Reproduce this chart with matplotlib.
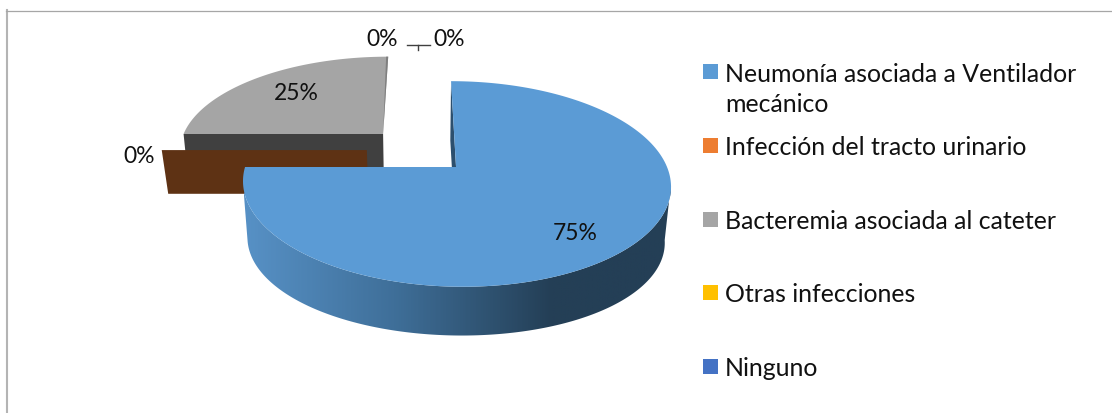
import numpy as np
import matplotlib
matplotlib.use('Agg')
import matplotlib.pyplot as plt
from matplotlib.patches import Polygon, Rectangle
from matplotlib.colors import LinearSegmentedColormap

categories = ['Neumonía asociada a Ventilador\nmecánico', 'Infección del tracto urinario',
              'Bacteremia asociada al cateter', 'Otras infecciones', 'Ninguno']
values = [75, 0, 25, 0, 0]
labels = ['75%', '0%', '25%', '0%', '0%']
colors = ['#5b9bd5', '#ed7d31', '#a5a5a5', '#ffc000', '#4472c4']

# explosion of each slice on the pie plane (x right, y away from viewer)
explode_x = [0.166, -0.264, -0.19, 0, 0]
explode_y = [0, 0.174, 0.349, 0, 0]

W, H = 1112, 414
VX, HORIZON, FY, P = 421, -438, 606, 0.165
LOW_FY, LOW_P, LOW_S, R = 663, 0.144, 0.975, 211
ORANGE_CUT = 14

plt.rcParams['font.family'] = ['Lato', 'DejaVu Sans']


def top(x, y):
    w = 1 + P * y
    return VX + R * x / w, HORIZON + FY / w


def low(x, y):
    w = 1 + P * y
    return VX + LOW_S * R * x / w, HORIZON + LOW_FY / (1 + LOW_P * y)


def sector(cx, cy, a0, a1, fn, n=200):
    # angles clockwise from the top of the pie
    a = np.radians(np.linspace(a0, a1, n))
    return np.column_stack(fn(cx + np.sin(a), cy + np.cos(a)))


def add_poly(ax, pts, color, z):
    ax.add_patch(Polygon(pts, closed=True, fc=color, ec='none', zorder=z))


fig = plt.figure(figsize=(W / 100, H / 100), dpi=100)
ax = fig.add_axes([0, 0, 1, 1])
ax.set_xlim(0, W)
ax.set_ylim(H, 0)
ax.axis('off')

# chart frame, only left and top are in the picture
ax.plot([6.8, 6.8], [H, 11], color='#b4b4b4', lw=1.5, zorder=1)
ax.plot([6, W], [11.5, 11.5], color='#a6a6a6', lw=0.9, zorder=1)

angles = np.cumsum([0] + values) * 3.6

# grey slice, at the back
cx, cy = explode_x[2], explode_y[2]
a0, a1 = angles[2], angles[3]
front_face = [top(cx, cy), top(cx - 1, cy), low(cx - 1, cy), low(cx, cy)]
add_poly(ax, front_face, '#404040', 3)
add_poly(ax, np.vstack([[top(cx, cy)], sector(cx, cy, a0, a1, top)]), colors[2], 4)
# thin sliver of its cut face along the right edge
add_poly(ax, [top(cx, cy + 1), top(cx, cy), top(cx - 0.012, cy + 1)], '#7f7f7f', 4.5)

# orange slice has no angle, only its cut face is seen
cx, cy = explode_x[1], explode_y[1]
orange_low = np.array([low(cx - 1, cy), low(cx, cy)]) - [0, ORANGE_CUT]
add_poly(ax, np.vstack([[top(cx, cy), top(cx - 1, cy)], orange_low]), '#5e3214', 5)

# blue slice
cx, cy = explode_x[0], explode_y[0]
a0, a1 = angles[0], angles[1]
inner = [top(cx, cy + 1), top(cx, cy), low(cx, cy), low(cx, cy + 1)]
add_poly(ax, inner, '#2c4f6e', 6)

# outer wall between the two silhouette points of the ellipse
upper = sector(cx, cy, 99.5, 260.5, top)
lower = sector(cx, cy, 99.5, 260.5, low)
side = Polygon(np.vstack([upper, lower[::-1]]), closed=True, fc='none', ec='none')
ax.add_patch(side)
side_cmap = LinearSegmentedColormap.from_list('side', [(0, '#5791c6'), (0.35, '#3f6f99'),
                                                        (0.72, '#243f56'), (1, '#243f56')])
grad = ax.imshow(np.linspace(0, 1, 430)[None, :], cmap=side_cmap, extent=(244, 672, 345, 160),
                 aspect='auto', zorder=7)
grad.set_clip_path(side)
ax.set_xlim(0, W)
ax.set_ylim(H, 0)

add_poly(ax, np.vstack([[top(cx, cy)], sector(cx, cy, a0, a1, top)]), colors[0], 8)

# data labels
label_pos = [(575, 234), (139, 157), (296, 94), (382, 40), (449, 40)]
for txt, (x, y) in zip(labels, label_pos):
    ax.text(x, y, txt, fontsize=16.5, color='#111111', ha='center', va='center', zorder=10)

# leader line of the two top labels
ax.plot([407, 430], [46, 46], color='#404040', lw=1, zorder=9)
ax.plot([418, 418], [46, 51], color='#404040', lw=1, zorder=9)

# legend
legend_y = [72.5, 146, 220, 293.5, 367]
for name, color, y in zip(categories, colors, legend_y):
    ax.add_patch(Rectangle((703, y - 7.5), 15, 15, fc=color, ec='none', zorder=10))
    lines = name.split('\n')
    for i, line in enumerate(lines):
        ax.text(725, y + 1.5 + i * 31, line, fontsize=17.9, color='#111111', ha='left', va='center', zorder=10)

fig.savefig('out.png', dpi=100)
